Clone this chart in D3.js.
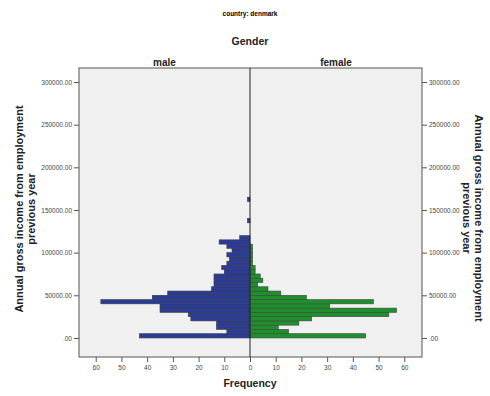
<!DOCTYPE html>
<html><head><meta charset="utf-8">
<script src="https://cdn.jsdelivr.net/npm/d3@7"></script>
<style>body{margin:0;background:#fff}svg{display:block}text{font-family:Arial,"Liberation Sans",sans-serif}</style>
</head><body><svg id="c" width="490" height="396"></svg>
<script>
const binWidth = 5000;
const binStarts = d3.range(0, 34).map(k => k * binWidth);
const maleCounts = [43,9,13,13,23,24,35,35,58,38,32,15,14,14,14,10,11,9,8,9,7,9,12,4,0,0,0,1,0,0,0,0,1,0];
const femaleCounts = [45,15,11,19,24,54,57,31,48,22,12,7,3,5,4,2,2,1,1,1,1,1,0,0,0,0,0,0,0,0,0,0,0,0];
const incomeTicks = [0,50000,100000,150000,200000,250000,300000];
const freqTicks = [0,10,20,30,40,50,60];
const panels = ["male","female"];

const svg = d3.select("#c");
const L = 79, R = 422, T = 68, B = 357, C = 250;
const y = d3.scaleLinear().domain([-22300, 316400]).range([B, T]);
const xm = d3.scaleLinear().domain([0, 66.5]).range([C, L]);
const xf = d3.scaleLinear().domain([0, 66.9]).range([C, R]);

svg.append("rect").attr("x",L).attr("y",T).attr("width",R-L).attr("height",B-T)
  .attr("fill","#f0f0f0").attr("stroke","#555").attr("stroke-width",1);

const fmt = d => d === 0 ? ".00" : d3.format(".2f")(d);

// bars
svg.append("g").selectAll("rect").data(binStarts.map((s,i)=>({s,v:maleCounts[i]})).filter(d=>d.v>0))
  .join("rect").attr("x",d=>xm(d.v)).attr("width",d=>xm(0)-xm(d.v))
  .attr("y",d=>y(d.s+binWidth)).attr("height",d=>y(d.s)-y(d.s+binWidth))
  .attr("fill","#2b3c96").attr("stroke","#3a3a4a").attr("stroke-width",0.6);
svg.append("g").selectAll("rect").data(binStarts.map((s,i)=>({s,v:femaleCounts[i]})).filter(d=>d.v>0))
  .join("rect").attr("x",xf(0)).attr("width",d=>xf(d.v)-xf(0))
  .attr("y",d=>y(d.s+binWidth)).attr("height",d=>y(d.s)-y(d.s+binWidth))
  .attr("fill","#1f8f2d").attr("stroke","#3a4a3a").attr("stroke-width",0.6);

// center line
svg.append("line").attr("x1",C).attr("x2",C).attr("y1",T).attr("y2",B).attr("stroke","#222").attr("stroke-width",1);

// y axes
const ly = svg.append("g").attr("transform",`translate(${L},0)`).call(d3.axisLeft(y).tickValues(incomeTicks).tickFormat(fmt).tickSize(5).tickPadding(2));
const ry = svg.append("g").attr("transform",`translate(${R},0)`).call(d3.axisRight(y).tickValues(incomeTicks).tickFormat(fmt).tickSize(5).tickPadding(2));
[ly,ry].forEach(g=>{g.select(".domain").remove();g.selectAll("line").attr("stroke","#555");g.selectAll("text").attr("font-size",6.5).attr("fill","#444");});

// x axes
const lx = svg.append("g").attr("transform",`translate(0,${B})`).call(d3.axisBottom(xm).tickValues(freqTicks).tickSize(5).tickPadding(3));
const rx = svg.append("g").attr("transform",`translate(0,${B})`).call(d3.axisBottom(xf).tickValues(freqTicks.slice(1)).tickSize(5).tickPadding(3));
[lx,rx].forEach(g=>{g.select(".domain").remove();g.selectAll("line").attr("stroke","#555");g.selectAll("text").attr("font-size",6.5).attr("fill","#444");});

// titles
svg.append("text").attr("x",C).attr("y",16).attr("text-anchor","middle").attr("font-size",6.5).attr("font-weight","bold").text("country: denmark");
svg.append("text").attr("x",C).attr("y",45).attr("text-anchor","middle").attr("font-size",10.5).attr("font-weight","bold").attr("fill","#222").text("Gender");
svg.append("g").selectAll("text").data(panels).join("text")
  .attr("x",(d,i)=> i===0 ? (L+C)/2 : (C+R)/2).attr("y",66).attr("text-anchor","middle")
  .attr("font-size",10).attr("font-weight","bold").attr("fill","#222").text(d=>d);
svg.append("text").attr("x",C).attr("y",387).attr("text-anchor","middle").attr("font-size",10.5).attr("font-weight","bold").attr("fill","#222").text("Frequency");

const lt = svg.append("text").attr("transform",`translate(23,209) rotate(-90)`).attr("text-anchor","middle").attr("font-size",11).attr("font-weight","bold").attr("fill","#222");
lt.append("tspan").attr("x",0).attr("dy",0).text("Annual gross income from employment");
lt.append("tspan").attr("x",0).attr("dy",12).text("previous year");
const rt = svg.append("text").attr("transform",`translate(475,218) rotate(90)`).attr("text-anchor","middle").attr("font-size",11).attr("font-weight","bold").attr("fill","#222");
rt.append("tspan").attr("x",0).attr("dy",0).text("Annual gross income from employment");
rt.append("tspan").attr("x",0).attr("dy",12).text("previous year");
</script></body></html>
